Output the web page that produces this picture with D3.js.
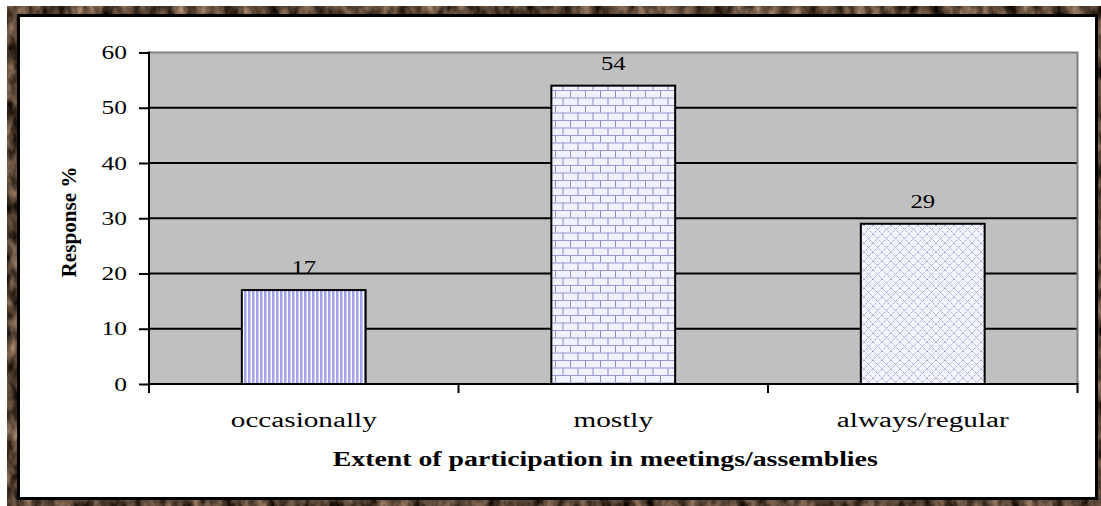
<!DOCTYPE html>
<html>
<head>
<meta charset="utf-8">
<script src="https://cdn.jsdelivr.net/npm/d3@7"></script>
<style>
  html, body { margin: 0; padding: 0; background: #ffffff; }
  svg { display: block; }
  text { font-family: "Liberation Serif", "Times New Roman", serif; fill: #000; }
</style>
</head>
<body>
<svg id="chart" width="1101" height="506"></svg>
<script>
// Survey responses: extent of participation in meetings/assemblies (%)
const categories = ["occasionally", "mostly", "always/regular"];
const responses = [17, 54, 29];
const yTicks = [0, 10, 20, 30, 40, 50, 60];
const xTitle = "Extent of participation in meetings/assemblies";
const yTitle = "Response %";

const svg = d3.select("#chart");
const defs = svg.append("defs");

// ---- textured wooden frame ----
const frameFilter = defs.append("filter").attr("id", "woodgrain")
  .attr("x", 0).attr("y", 0).attr("width", 1).attr("height", 1)
  .attr("color-interpolation-filters", "sRGB");
frameFilter.append("feTurbulence")
  .attr("type", "fractalNoise").attr("baseFrequency", "0.09 0.05")
  .attr("numOctaves", 3).attr("seed", 7).attr("result", "noise");
frameFilter.append("feColorMatrix").attr("in", "noise").attr("type", "matrix")
  .attr("values", "0.95 0 0 0 -0.14  0.80 0 0 0 -0.14  0.68 0 0 0 -0.14  0 0 0 0 1");

// ---- bar fill patterns ----
// vertical stripes
const stripes = defs.append("pattern").attr("id", "pat-stripes")
  .attr("patternUnits", "userSpaceOnUse").attr("width", 4).attr("height", 4);
stripes.append("rect").attr("width", 4).attr("height", 4).attr("fill", "#ffffff");
stripes.append("rect").attr("x", 0).attr("width", 2).attr("height", 4).attr("fill", "#a2a2ee");
stripes.append("rect").attr("x", 2).attr("width", 1).attr("height", 4).attr("fill", "#cdcdf6");

// horizontal brick
const brick = defs.append("pattern").attr("id", "pat-brick")
  .attr("patternUnits", "userSpaceOnUse").attr("width", 15).attr("height", 15);
brick.append("rect").attr("width", 15).attr("height", 15).attr("fill", "#f1f1ff");
brick.append("rect").attr("x", 0).attr("y", 0).attr("width", 15).attr("height", 1).attr("fill", "#9a9ad6");
brick.append("rect").attr("x", 0).attr("y", 7.5).attr("width", 15).attr("height", 1).attr("fill", "#9a9ad6");
brick.append("rect").attr("x", 0).attr("y", 0).attr("width", 1).attr("height", 7.5).attr("fill", "#8e8ec8");
brick.append("rect").attr("x", 7.5).attr("y", 7.5).attr("width", 1).attr("height", 7.5).attr("fill", "#8e8ec8");

// dotted diamond lattice
const diamond = defs.append("pattern").attr("id", "pat-diamond")
  .attr("patternUnits", "userSpaceOnUse").attr("width", 9).attr("height", 9);
diamond.append("rect").attr("width", 9).attr("height", 9).attr("fill", "#f4f4ff");
diamond.append("path").attr("d", "M0,0 L9,9 M9,0 L0,9")
  .attr("stroke", "#a6a6cc").attr("stroke-width", 1).attr("stroke-dasharray", "1.4,0.7").attr("fill", "none");

const patterns = ["url(#pat-stripes)", "url(#pat-brick)", "url(#pat-diamond)"];

// ---- frame and panel ----
svg.append("rect").attr("x", 7).attr("y", 6).attr("width", 1094).attr("height", 500)
  .attr("fill", "#5a4434").attr("filter", "url(#woodgrain)");
svg.append("rect").attr("x", 18.5).attr("y", 15.5).attr("width", 1078).attr("height", 483)
  .attr("fill", "#ffffff").attr("stroke", "#000").attr("stroke-width", 3);

// ---- scales ----
const plot = { left: 149, right: 1077.5, top: 52.5, bottom: 384 };
const x = d3.scaleBand().domain(categories).range([plot.left, plot.right])
  .paddingInner(0.6).paddingOuter(0.3);
const y = d3.scaleLinear().domain([0, 60]).range([plot.bottom, plot.top]);

// stretch text horizontally by a factor
function stretch(sel, k) {
  sel.each(function () {
    const w = this.getComputedTextLength();
    d3.select(this).attr("textLength", w * k).attr("lengthAdjust", "spacingAndGlyphs");
  });
}

// plot background
svg.append("rect").attr("x", plot.left).attr("y", y(60))
  .attr("width", plot.right - plot.left).attr("height", y(0) - y(60))
  .attr("fill", "#c0c0c0");

// gridlines
svg.append("g").selectAll("line").data(yTicks.filter(d => d > 0 && d < 60)).join("line")
  .attr("x1", plot.left).attr("x2", plot.right)
  .attr("y1", d => y(d)).attr("y2", d => y(d))
  .attr("stroke", "#000").attr("stroke-width", 2);

// top and right border of plot area
svg.append("path")
  .attr("d", `M${plot.left},${y(60)} H${plot.right} V${y(0)}`)
  .attr("fill", "none").attr("stroke", "#808080").attr("stroke-width", 2);

// bars
svg.append("g").selectAll("rect").data(responses).join("rect")
  .attr("x", (d, i) => x(categories[i]))
  .attr("y", d => y(d))
  .attr("width", x.bandwidth())
  .attr("height", d => y(0) - y(d))
  .attr("fill", (d, i) => patterns[i])
  .attr("stroke", "#000").attr("stroke-width", 2);

// value labels
const valueLabels = svg.append("g").selectAll("text").data(responses).join("text")
  .attr("x", (d, i) => x(categories[i]) + x.bandwidth() / 2)
  .attr("y", d => y(d) - 16)
  .attr("text-anchor", "middle")
  .style("font-size", "19px")
  .text(d => d);
stretch(valueLabels, 1.3);

// y axis
const yAxis = svg.append("g").attr("transform", `translate(${plot.left},0)`)
  .call(d3.axisLeft(y).tickValues(yTicks).tickSize(10).tickPadding(12).tickFormat(d3.format("d")));
yAxis.select(".domain").attr("stroke", "#000").attr("stroke-width", 2).attr("d", `M0,${y(0) + 1}V${y(60) - 1}`);
yAxis.selectAll(".tick line").attr("stroke", "#000").attr("stroke-width", 2);
yAxis.selectAll(".tick text")
  .style("font-family", "'Liberation Serif', serif").style("font-size", "19px").attr("fill", "#000");
stretch(yAxis.selectAll(".tick text"), 1.34);

// x axis with ticks at category boundaries
const xAxis = svg.append("g").attr("transform", `translate(0,${y(0)})`)
  .call(d3.axisBottom(x).tickSize(0).tickPadding(29));
xAxis.select(".domain").remove();
xAxis.selectAll(".tick text")
  .style("font-family", "'Liberation Serif', serif").style("font-size", "20px").attr("fill", "#000");
stretch(xAxis.selectAll(".tick text"), 1.46);
svg.append("line").attr("x1", plot.left - 1).attr("x2", plot.right + 1)
  .attr("y1", y(0)).attr("y2", y(0)).attr("stroke", "#000").attr("stroke-width", 2);
const gap = (x.step() - x.bandwidth()) / 2;
const boundaries = categories.map(c => x(c) - gap).concat([x(categories[categories.length - 1]) + x.bandwidth() + gap]);
svg.append("g").selectAll("line").data(boundaries).join("line")
  .attr("x1", d => d).attr("x2", d => d)
  .attr("y1", y(0)).attr("y2", y(0) + 9)
  .attr("stroke", "#000").attr("stroke-width", 2);

// axis titles
svg.append("text").attr("x", (plot.left + plot.right) / 2 - 8).attr("y", 466)
  .attr("text-anchor", "middle").style("font-size", "20px").style("font-weight", "bold")
  .attr("textLength", 545).attr("lengthAdjust", "spacingAndGlyphs")
  .text(xTitle);
svg.append("text").attr("transform", "translate(76,222) rotate(-90)")
  .attr("text-anchor", "middle").style("font-size", "22px").style("font-weight", "bold")
  .attr("textLength", 111).attr("lengthAdjust", "spacingAndGlyphs")
  .text(yTitle);
</script>
</body>
</html>
